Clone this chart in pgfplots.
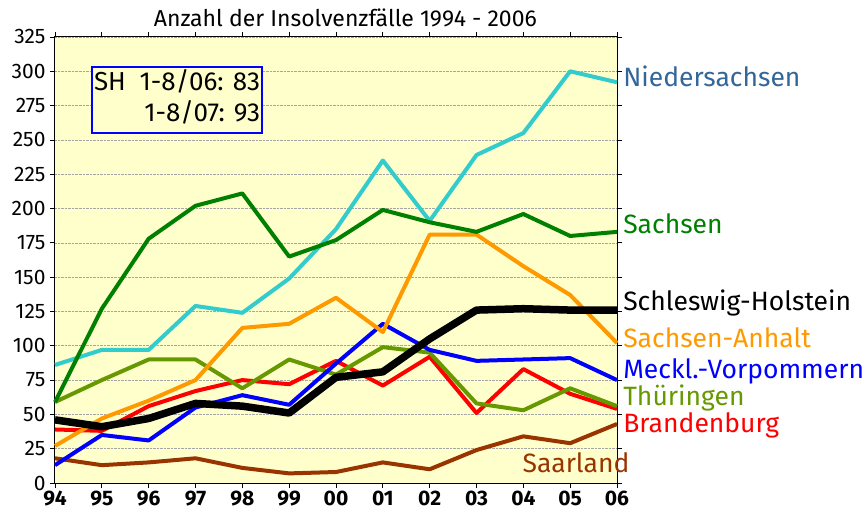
\documentclass[border=0pt]{standalone}
\usepackage{fontspec}
\setmainfont{Fira Sans}
\usepackage{pgfplots}
\pgfplotsset{compat=1.18}

\definecolor{bgyellow}{RGB}{255,255,204}
\definecolor{nds}{RGB}{51,204,204}
\definecolor{ndstext}{RGB}{51,102,153}
\definecolor{sachsen}{RGB}{0,128,0}
\definecolor{anhalt}{RGB}{255,153,0}
\definecolor{meckl}{RGB}{0,0,255}
\definecolor{thuer}{RGB}{102,153,0}
\definecolor{brand}{RGB}{255,0,0}
\definecolor{saar}{RGB}{153,51,0}

\begin{document}
\begin{tikzpicture}
\path[use as bounding box] (-55bp,-33bp) rectangle (813bp,483bp);
\begin{axis}[
    scale only axis,
    width=562bp, height=446bp,
    xmin=0, xmax=12, ymin=0, ymax=325,
    xtick={0,...,12},
    xticklabels={94,95,96,97,98,99,00,01,02,03,04,05,06},
    ytick={0,25,...,325},
    axis background/.style={fill=bgyellow},
    ymajorgrids,
    grid style={densely dotted, gray!70, line width=0.6bp},
    tick align=outside,
    major tick length=5bp,
    tick style={black, line width=0.8bp},
    axis line style={line width=1bp},
    /pgf/number format/assume math mode=true,
    yticklabel style={font=\fontsize{21bp}{24bp}\selectfont, xshift=-1bp},
    xticklabel style={font=\fontsize{21bp}{24bp}\selectfont\bfseries, yshift=1bp},
    clip=false,
    every axis plot/.append style={line join=round},
]
\addplot[saar, line width=4bp] coordinates {
 (0,18) (1,13) (2,15) (3,18) (4,11) (5,7) (6,8) (7,15) (8,10) (9,24) (10,34) (11,29) (12,43)};
\addplot[brand, line width=4bp] coordinates {
 (0,39) (1,38) (2,56) (3,67) (4,75) (5,72) (6,89) (7,71) (8,92) (9,51) (10,83) (11,65) (12,54)};
\addplot[thuer, line width=4bp] coordinates {
 (0,59) (1,75) (2,90) (3,90) (4,69) (5,90) (6,79) (7,99) (8,95) (9,58) (10,53) (11,69) (12,56)};
\addplot[meckl, line width=4bp] coordinates {
 (0,13) (1,35) (2,31) (3,55) (4,64) (5,57) (6,87) (7,116) (8,97) (9,89) (10,90) (11,91) (12,75)};
\addplot[anhalt, line width=4bp] coordinates {
 (0,27) (1,47) (2,60) (3,75) (4,113) (5,116) (6,135) (7,110) (8,181) (9,181) (10,158) (11,137) (12,102)};
\addplot[nds, line width=4bp] coordinates {
 (0,86) (1,97) (2,97) (3,129) (4,124) (5,149) (6,185) (7,235) (8,191) (9,239) (10,255) (11,300) (12,292)};
\addplot[sachsen, line width=4bp] coordinates {
 (0,59) (1,127) (2,178) (3,202) (4,211) (5,165) (6,177) (7,199) (8,190) (9,183) (10,196) (11,180) (12,183)};
\addplot[black, line width=7.5bp] coordinates {
 (0,46) (1,41) (2,47) (3,58) (4,56) (5,51) (6,77) (7,81) (8,105) (9,126) (10,127) (11,126) (12,126)};

% Titel
\node[font=\fontsize{23bp}{27bp}\selectfont] at (axis cs:6.2,339) {Anzahl der Insolvenzfälle 1994 - 2006};

% Kasten
\node[draw=meckl, line width=2bp, fill=bgyellow, anchor=north west, inner sep=2bp,
      font=\fontsize{26bp}{31bp}\selectfont] at (axis cs:0.77,304)
  {\begin{tabular}{@{}l@{\ \ }r@{}}SH & 1-8/06: 83\\ & 1-8/07: 93\end{tabular}};

% Beschriftungen rechts
\begin{scope}[every node/.style={anchor=west, inner sep=0pt, font=\fontsize{26.5bp}{31bp}\selectfont}]
\node[text=ndstext] at (axis cs:12.13,296) {Niedersachsen};
\node[text=sachsen] at (axis cs:12.13,189) {Sachsen};
\node[text=black] at (axis cs:12.13,131) {Schleswig-Holstein};
\node[text=anhalt] at (axis cs:12.13,106) {Sachsen-Anhalt};
\node[text=meckl] at (axis cs:12.13,81) {Meckl.-Vorpommern};
\node[text=thuer] at (axis cs:12.13,62) {Thüringen};
\node[text=brand] at (axis cs:12.13,42) {Brandenburg};
\node[text=saar] at (axis cs:9.98,15) {Saarland};
\end{scope}
\end{axis}
\end{tikzpicture}
\end{document}
